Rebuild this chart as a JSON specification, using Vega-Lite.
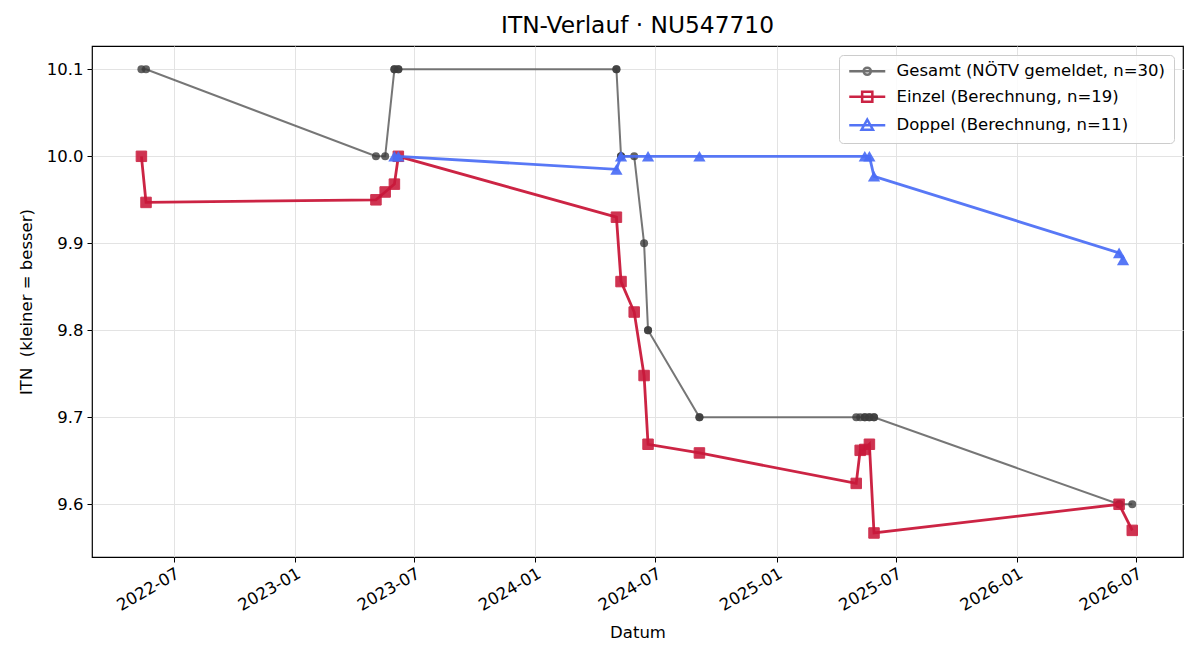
{
  "$schema": "https://vega.github.io/schema/vega-lite/v6.json",
  "autosize": "none",
  "padding": {"left": 92, "top": 46, "right": 17, "bottom": 103},
  "width": 1091,
  "height": 511,
  "background": "white",
  "title": {
    "text": "ITN-Verlauf · NU547710",
    "font": "DejaVu Sans",
    "fontSize": 23.3,
    "fontWeight": "normal",
    "color": "#000000",
    "anchor": "middle",
    "offset": 8
  },
  "config": {
    "font": "DejaVu Sans",
    "view": {"stroke": "#000000", "strokeWidth": 1.2},
    "axis": {
      "domain": false,
      "labelFont": "DejaVu Sans",
      "labelFontSize": 16.5,
      "labelColor": "#000000",
      "tickColor": "#000000",
      "tickSize": 5,
      "tickWidth": 1,
      "titleFont": "DejaVu Sans",
      "titleFontSize": 16.5,
      "titleFontWeight": "normal",
      "titleColor": "#000000",
      "gridColor": "#e3e3e3",
      "gridWidth": 1
    },
    "legend": {
      "labelFont": "DejaVu Sans",
      "labelFontSize": 16.5,
      "labelColor": "#000000",
      "labelLimit": 0
    }
  },
  "data": {
    "values": [
      {"serie": "Gesamt", "datum": "2022-05-13", "itn": 10.1},
      {"serie": "Gesamt", "datum": "2022-05-20", "itn": 10.1},
      {"serie": "Gesamt", "datum": "2023-05-04", "itn": 10.0},
      {"serie": "Gesamt", "datum": "2023-05-18", "itn": 10.0},
      {"serie": "Gesamt", "datum": "2023-06-01", "itn": 10.1},
      {"serie": "Gesamt", "datum": "2023-06-01", "itn": 10.1},
      {"serie": "Gesamt", "datum": "2023-06-07", "itn": 10.1},
      {"serie": "Gesamt", "datum": "2023-06-07", "itn": 10.1},
      {"serie": "Gesamt", "datum": "2024-05-03", "itn": 10.1},
      {"serie": "Gesamt", "datum": "2024-05-03", "itn": 10.1},
      {"serie": "Gesamt", "datum": "2024-05-10", "itn": 10.0},
      {"serie": "Gesamt", "datum": "2024-05-10", "itn": 10.0},
      {"serie": "Gesamt", "datum": "2024-05-30", "itn": 10.0},
      {"serie": "Gesamt", "datum": "2024-06-14", "itn": 9.9},
      {"serie": "Gesamt", "datum": "2024-06-20", "itn": 9.8},
      {"serie": "Gesamt", "datum": "2024-06-20", "itn": 9.8},
      {"serie": "Gesamt", "datum": "2024-09-06", "itn": 9.7},
      {"serie": "Gesamt", "datum": "2024-09-06", "itn": 9.7},
      {"serie": "Gesamt", "datum": "2025-05-02", "itn": 9.7},
      {"serie": "Gesamt", "datum": "2025-05-08", "itn": 9.7},
      {"serie": "Gesamt", "datum": "2025-05-15", "itn": 9.7},
      {"serie": "Gesamt", "datum": "2025-05-15", "itn": 9.7},
      {"serie": "Gesamt", "datum": "2025-05-22", "itn": 9.7},
      {"serie": "Gesamt", "datum": "2025-05-22", "itn": 9.7},
      {"serie": "Gesamt", "datum": "2025-05-29", "itn": 9.7},
      {"serie": "Gesamt", "datum": "2025-05-29", "itn": 9.7},
      {"serie": "Gesamt", "datum": "2026-06-05", "itn": 9.6},
      {"serie": "Gesamt", "datum": "2026-06-05", "itn": 9.6},
      {"serie": "Gesamt", "datum": "2026-06-06", "itn": 9.6},
      {"serie": "Gesamt", "datum": "2026-06-25", "itn": 9.6},

      {"serie": "Einzel", "datum": "2022-05-13", "itn": 10.0},
      {"serie": "Einzel", "datum": "2022-05-20", "itn": 9.947},
      {"serie": "Einzel", "datum": "2023-05-04", "itn": 9.95},
      {"serie": "Einzel", "datum": "2023-05-18", "itn": 9.959},
      {"serie": "Einzel", "datum": "2023-06-01", "itn": 9.968},
      {"serie": "Einzel", "datum": "2023-06-07", "itn": 10.0},
      {"serie": "Einzel", "datum": "2024-05-03", "itn": 9.93},
      {"serie": "Einzel", "datum": "2024-05-10", "itn": 9.856},
      {"serie": "Einzel", "datum": "2024-05-30", "itn": 9.821},
      {"serie": "Einzel", "datum": "2024-06-14", "itn": 9.748},
      {"serie": "Einzel", "datum": "2024-06-20", "itn": 9.669},
      {"serie": "Einzel", "datum": "2024-09-06", "itn": 9.659},
      {"serie": "Einzel", "datum": "2025-05-02", "itn": 9.624},
      {"serie": "Einzel", "datum": "2025-05-08", "itn": 9.662},
      {"serie": "Einzel", "datum": "2025-05-15", "itn": 9.663},
      {"serie": "Einzel", "datum": "2025-05-22", "itn": 9.669},
      {"serie": "Einzel", "datum": "2025-05-29", "itn": 9.567},
      {"serie": "Einzel", "datum": "2026-06-05", "itn": 9.6},
      {"serie": "Einzel", "datum": "2026-06-25", "itn": 9.57},

      {"serie": "Doppel", "datum": "2023-06-01", "itn": 10.0},
      {"serie": "Doppel", "datum": "2023-06-07", "itn": 10.0},
      {"serie": "Doppel", "datum": "2024-05-03", "itn": 9.985},
      {"serie": "Doppel", "datum": "2024-05-10", "itn": 10.0},
      {"serie": "Doppel", "datum": "2024-06-20", "itn": 10.0},
      {"serie": "Doppel", "datum": "2024-09-06", "itn": 10.0},
      {"serie": "Doppel", "datum": "2025-05-15", "itn": 10.0},
      {"serie": "Doppel", "datum": "2025-05-22", "itn": 10.0},
      {"serie": "Doppel", "datum": "2025-05-29", "itn": 9.977},
      {"serie": "Doppel", "datum": "2026-06-05", "itn": 9.889},
      {"serie": "Doppel", "datum": "2026-06-11", "itn": 9.881}
    ]
  },
  "encoding": {
    "x": {
      "field": "datum",
      "type": "temporal",
      "scale": {
        "type": "utc",
        "domain": [
          {"year": 2022, "month": 2, "date": 27, "utc": true},
          {"year": 2026, "month": 9, "date": 10, "utc": true}
        ]
      },
      "axis": {
        "title": "Datum",
        "titlePadding": 11,
        "format": "%Y-%m",
        "values": [
          {"year": 2022, "month": 7, "date": 1, "utc": true},
          {"year": 2023, "month": 1, "date": 1, "utc": true},
          {"year": 2023, "month": 7, "date": 1, "utc": true},
          {"year": 2024, "month": 1, "date": 1, "utc": true},
          {"year": 2024, "month": 7, "date": 1, "utc": true},
          {"year": 2025, "month": 1, "date": 1, "utc": true},
          {"year": 2025, "month": 7, "date": 1, "utc": true},
          {"year": 2026, "month": 1, "date": 1, "utc": true},
          {"year": 2026, "month": 7, "date": 1, "utc": true}
        ],
        "labelAngle": -30,
        "labelAlign": "right",
        "labelBaseline": "top",
        "labelPadding": 3
      }
    },
    "y": {
      "field": "itn",
      "type": "quantitative",
      "scale": {"domain": [9.5394, 10.1268], "nice": false, "zero": false},
      "axis": {
        "title": "ITN\u00a0\u00a0(kleiner = besser)",
        "values": [9.6, 9.7, 9.8, 9.9, 10.0, 10.1],
        "format": ".1f",
        "titlePadding": 12,
        "labelPadding": 4
      }
    }
  },
  "layer": [
    {
      "transform": [{"filter": "datum.serie === 'Gesamt'"}],
      "mark": {"type": "line", "strokeWidth": 2, "opacity": 0.85, "color": "#5e5e5e"}
    },
    {
      "transform": [{"filter": "datum.serie === 'Gesamt'"}],
      "mark": {"type": "point", "shape": "circle", "filled": true, "size": 64, "color": "#3c3c3c", "opacity": 0.8}
    },
    {
      "transform": [{"filter": "datum.serie === 'Einzel'"}],
      "mark": {"type": "line", "strokeWidth": 2.8, "opacity": 0.95, "color": "#c9183a"}
    },
    {
      "transform": [{"filter": "datum.serie === 'Einzel'"}],
      "mark": {"type": "point", "shape": "square", "filled": true, "size": 110, "color": "#c9183a", "opacity": 0.88, "stroke": "#c9183a", "strokeWidth": 1}
    },
    {
      "transform": [{"filter": "datum.serie === 'Doppel'"}],
      "mark": {"type": "line", "strokeWidth": 2.8, "opacity": 0.92, "color": "#4a6cf5"}
    },
    {
      "transform": [{"filter": "datum.serie === 'Doppel'"}],
      "mark": {"type": "point", "shape": "triangle-up", "filled": true, "size": 150, "color": "#4a6cf5", "opacity": 0.92}
    },
    {
      "mark": {"type": "point", "filled": false, "opacity": 0, "size": 144, "strokeWidth": 2.5},
      "encoding": {
        "color": {
          "field": "serie",
          "type": "nominal",
          "scale": {
            "domain": ["Gesamt", "Einzel", "Doppel"],
            "range": ["#6a6a6a", "#c9183a", "#4a6cf5"]
          },
          "legend": {
            "title": null,
            "orient": "top-right",
            "offset": 9,
            "padding": 8,
            "fillColor": "rgba(255,255,255,0.85)",
            "strokeColor": "#cccccc",
            "cornerRadius": 4,
            "rowPadding": 6.5,
            "labelOffset": 33,
            "symbolSize": 144,
            "symbolStrokeWidth": 2.5,
            "symbolOpacity": 0.95,
            "labelExpr": "datum.value === 'Gesamt' ? 'Gesamt (NÖTV gemeldet, n=30)' : datum.value === 'Einzel' ? 'Einzel (Berechnung, n=19)' : 'Doppel (Berechnung, n=11)'"
          }
        },
        "shape": {
          "field": "serie",
          "type": "nominal",
          "scale": {
            "domain": ["Gesamt", "Einzel", "Doppel"],
            "range": [
              "M-1,0H5M2.6,0A0.6,0.6,0,1,1,1.4,0A0.6,0.6,0,1,1,2.6,0Z",
              "M-1,0H5M1.15,-0.85H2.85V0.85H1.15Z",
              "M-1,0H5M2,-0.95L2.95,0.75L1.05,0.75Z"
            ]
          },
          "legend": {
            "title": null,
            "orient": "top-right",
            "offset": 9,
            "padding": 8,
            "fillColor": "rgba(255,255,255,0.85)",
            "strokeColor": "#cccccc",
            "cornerRadius": 4,
            "rowPadding": 6.5,
            "labelOffset": 33,
            "symbolSize": 144,
            "symbolStrokeWidth": 2.5,
            "symbolOpacity": 0.95,
            "labelExpr": "datum.value === 'Gesamt' ? 'Gesamt (NÖTV gemeldet, n=30)' : datum.value === 'Einzel' ? 'Einzel (Berechnung, n=19)' : 'Doppel (Berechnung, n=11)'"
          }
        }
      }
    }
  ]
}
